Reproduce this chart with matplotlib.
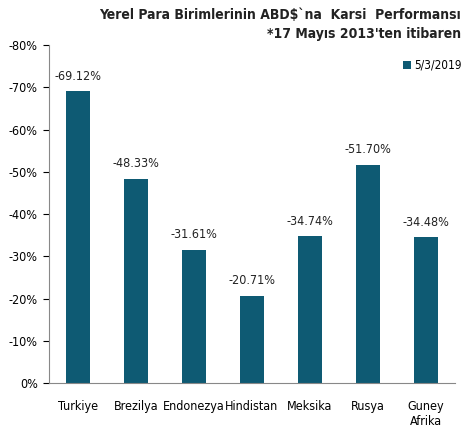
import matplotlib.pyplot as plt
import numpy as np

countries = ['Turkiye', 'Brezilya', 'Endonezya', 'Hindistan', 'Meksika', 'Rusya', 'Guney\nAfrika']
values = [-69.12, -48.33, -31.61, -20.71, -34.74, -51.70, -34.48]
yticks = [0, -10, -20, -30, -40, -50, -60, -70, -80]

color = '#0e5a73'
plt.rcParams['font.family'] = ['DejaVu Sans']
plt.rcParams['font.stretch'] = 'condensed'

fig = plt.figure(figsize=(4.66, 4.3), dpi=100)
ax = fig.add_axes([0.105, 0.109, 0.871, 0.786])

x = np.arange(len(countries))
bars = ax.bar(x, values, width=0.41, color=color, label='5/3/2019')
for xi, v in zip(x, values):
    ax.text(xi, v - 2.0, '{0:.2f}%'.format(v), ha='center', va='bottom', fontsize=9, color='#222222')

ax.set_ylim(0, -80)
ax.set_xlim(-0.5, len(countries) - 0.5)
ax.set_yticks(yticks)
ax.set_yticklabels(['{0}%'.format(t) for t in yticks], fontsize=9)
ax.set_xticks(x)
ax.set_xticklabels(countries, fontsize=9)
ax.tick_params(axis='x', length=0, pad=12)
ax.tick_params(axis='y', length=4, direction='out', pad=4)
for s in ['top', 'right']:
    ax.spines[s].set_visible(False)
for s in ['left', 'bottom']:
    ax.spines[s].set_color('#888888')

leg = ax.legend(loc='upper right', bbox_to_anchor=(1.035, 0.98), frameon=False, fontsize=8.5,
                handlelength=0.7, handleheight=0.7, handletextpad=0.3, borderaxespad=0.2)

fig.text(0.99, 0.965, "Yerel Para Birimlerinin ABD$`na  Karsi  Performansı", ha='right', va='center',
         fontsize=10, fontweight='bold', color='#222222')
fig.text(0.99, 0.922, "*17 Mayıs 2013'ten itibaren", ha='right', va='center',
         fontsize=10, fontweight='bold', color='#222222')

plt.savefig('out.png')
